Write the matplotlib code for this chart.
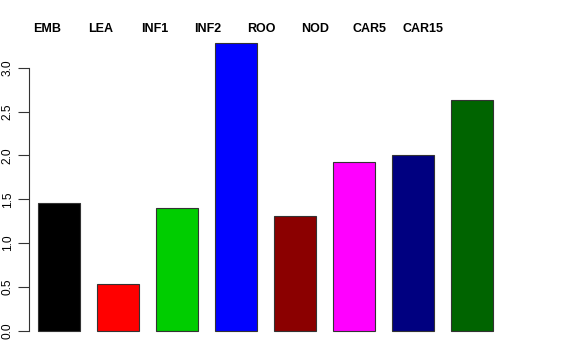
import matplotlib
matplotlib.use("Agg")
import matplotlib.pyplot as plt
import numpy as np

categories = ["EMB", "LEA", "INF1", "INF2", "ROO", "NOD", "CAR5", "CAR15"]
values = [1.456, 0.54, 1.40, 3.28, 1.31, 1.93, 2.00, 2.63]
colors = ["#000000", "#FF0000", "#00CD00", "#0000FF", "#8B0000", "#FF00FF", "#000080", "#006400"]
yticks = [0.0, 0.5, 1.0, 1.5, 2.0, 2.5, 3.0]

W, H = 576, 360
fig = plt.figure(figsize=(W / 100, H / 100), dpi=100)
plt.rcParams['font.family'] = ['Liberation Sans', 'DejaVu Sans']

# axes region in pixels
left_px, right_px = 29, 519
top_px, bottom_px = 31.5, 342.5
ax = fig.add_axes([left_px / W, 1 - bottom_px / H, (right_px - left_px) / W, (bottom_px - top_px) / H])

n = len(values)
pos = np.arange(n)
spacing_px = 59.0
bar_w = 41.5 / spacing_px
ax.bar(pos, values, width=bar_w, align='center', color=colors, edgecolor='#333333', linewidth=0.8)

first_center_px = 38 + 41.5 / 2
ax.set_xlim(-(first_center_px - left_px) / spacing_px, (right_px - first_center_px) / spacing_px)
px_per_unit_y = (331 - 67.7) / 3.0
ax.set_ylim(-(bottom_px - 331) / px_per_unit_y, (331 - top_px) / px_per_unit_y)

for s in ['top', 'right', 'bottom']:
    ax.spines[s].set_visible(False)
ax.spines['left'].set_bounds(0, 3.0)
ax.spines['left'].set_color('#333333')
ax.spines['left'].set_linewidth(0.8)
ax.set_xticks([])
ax.set_yticks(yticks)
ax.set_yticklabels([f"{t:.1f}" for t in yticks], rotation=90, va='center', fontsize=8.6)
ax.tick_params(axis='y', length=8, width=0.8, color='#333333', pad=3)

# category labels across the top
for i, c in enumerate(categories):
    cx = 47 + 53.7 * i
    fig.text(cx / W, 1 - 29.5 / H, c, ha='center', va='center', fontsize=9, fontweight='bold')

fig.savefig("out.png", dpi=100)
